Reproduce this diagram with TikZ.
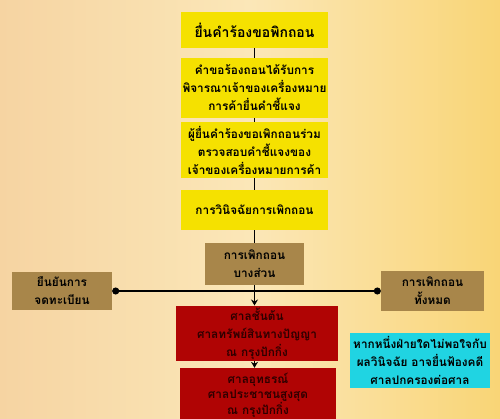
\documentclass[tikz,border=0pt]{standalone}
\usepackage{fontspec}
\newfontfamily\thaifont[Script=Thai]{Loma}
\usetikzlibrary{arrows.meta}
\definecolor{bgL}{RGB}{246,212,162}
\definecolor{bgM}{RGB}{251,231,184}
\definecolor{bgR}{RGB}{249,213,118}
\definecolor{yel}{RGB}{245,225,0}
\definecolor{brn}{RGB}{168,134,74}
\definecolor{redb}{RGB}{176,4,4}
\definecolor{redt}{RGB}{45,0,0}
\definecolor{cyn}{RGB}{32,212,226}
\tikzset{
  box/.style={inner sep=2pt, align=center, font=\thaifont\bfseries\fontsize{11.8}{18}\selectfont},
  ybox/.style={box, fill=yel},
  bbox/.style={box, fill=brn},
  rbox/.style={box, fill=redb, text=redt},
  cbox/.style={box, fill=cyn},
  conn/.style={line width=1.6pt, black},
  arr/.style={conn, -{Stealth[length=6pt,width=7pt]}},
  dotted line/.style={conn, {Circle[length=7pt]}-{Circle[length=7pt]}}
}
\begin{document}
\begin{tikzpicture}[x=1pt,y=-1pt]
\useasboundingbox (0,0) rectangle (500,419);
\clip (0,0) rectangle (500,419);
\shade[left color=bgL, right color=bgR, middle color=bgM] (0,0) rectangle (500,419);
\node[ybox, minimum width=147pt, minimum height=36pt, font=\thaifont\bfseries\fontsize{14}{18}\selectfont] (b1) at (254.5,30) {ยื่นคำร้องขอพิกถอน};
\node[ybox, minimum width=147pt, minimum height=60pt] (b2) at (254.5,88) {คำขอร้องถอนได้รับการ\\พิจารณาเจ้าของเครื่องหมาย\\การค้ายื่นคำชี้แจง};
\node[ybox, minimum width=147pt, minimum height=56pt] (b3) at (254.5,150) {ผู้ยื่นคำร้องขอเพิกถอนร่วม\\ตรวจสอบคำชี้แจงของ\\เจ้าของเครื่องหมายการค้า};
\node[ybox, minimum width=147pt, minimum height=40pt] (b4) at (254.5,210) {การวินิจฉัยการเพิกถอน};
\node[bbox, minimum width=99pt, minimum height=42pt] (b5) at (254.5,264) {การเพิกถอน\\บางส่วน};
\node[bbox, minimum width=100pt, minimum height=38pt] (b6) at (62,291) {ยืนยันการ\\จดทะเบียน};
\node[bbox, minimum width=103pt, minimum height=39pt] (b7) at (432.5,291) {การเพิกถอน\\ทั้งหมด};
\node[rbox, minimum width=162pt, minimum height=53pt] (b8) at (257,333.5) {ศาลชั้นต้น\\ศาลทรัพย์สินทางปัญญา\\ณ กรุงปักกิ่ง};
\node[rbox, minimum width=156pt, minimum height=54pt, font=\thaifont\bfseries\fontsize{11.8}{15}\selectfont] (b9) at (258,395) {ศาลอุทธรณ์\\ศาลประชาชนสูงสุด\\ณ กรุงปักกิ่ง};
\node[cbox, minimum width=140pt, minimum height=55pt] (b10) at (420,360.5) {หากหนึ่งฝ่ายใดไม่พอใจกับ\\ผลวินิจฉัย อาจยื่นฟ้องคดี\\ศาลปกครองต่อศาล};
\draw[conn] (b1.south) -- (b2.north);
\draw[conn] (b2.south) -- (b3.north);
\draw[conn] (b3.south) -- (b4.north);
\draw[conn] (b4.south) -- (b5.north);
\draw[dotted line] (b6.east) -- (b6.east -| b7.west);
\draw[arr] (b5.south) -- (b5.south |- b8.north);
\draw[arr] (b8.south -| b5.south) -- (b5.south |- b9.north);
\end{tikzpicture}
\end{document}
